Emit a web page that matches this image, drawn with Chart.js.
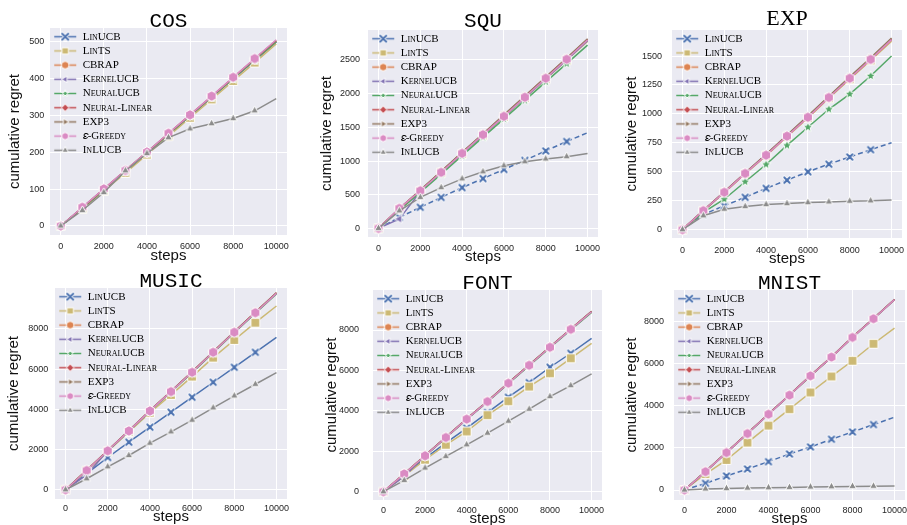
<!DOCTYPE html>
<html>
<head>
<meta charset="utf-8">
<script src="https://cdn.jsdelivr.net/npm/chart.js@4.4.1/dist/chart.umd.min.js"></script>
<style>
  body { margin: 0; background: #fff; width: 907px; height: 525px; overflow: hidden; position: relative; }
  canvas { position: absolute; }
</style>
</head>
<body>
<script>
// x positions shared by every panel
const steps = [0, 1000, 2000, 3000, 4000, 5000, 6000, 7000, 8000, 9000, 10000];
const methods = ["LinUCB", "LinTS", "CBRAP", "KernelUCB", "NeuralUCB", "Neural-Linear", "EXP3", "\u{1D700}-Greedy", "InLUCB"];
const colors = ["#4C72B0", "#CCB974", "#DD8452", "#8172B3", "#55A868", "#C44E52", "#937860", "#DA8BC3", "#8C8C8C"];
const markers = ["x", "s", "o", "<", "*", "D", ">", "h", "^"];

const xTicks = [0, 2000, 4000, 6000, 8000, 10000];
const cosTicks = [0, 100, 200, 300, 400, 500];
const squTicks = [0, 500, 1000, 1500, 2000, 2500];
const expTicks = [0, 250, 500, 750, 1000, 1250, 1500];
const bigTicks = [0, 2000, 4000, 6000, 8000];

// cumulative regret, one row per method (same order as methods)
const cosRegret = [
  [0, 48, 98, 148, 198, 249, 299, 350, 400, 450, 500],
  [0, 46, 95, 144, 194, 244, 294, 344, 394, 444, 495],
  [0, 49, 99, 149, 199, 250, 301, 351, 402, 452, 502],
  [0, 49, 99, 149, 199, 250, 300, 350, 401, 451, 501],
  [0, 48, 98, 148, 199, 249, 300, 350, 400, 451, 500],
  [0, 50, 100, 151, 201, 251, 302, 352, 403, 454, 504],
  [0, 50, 100, 150, 200, 251, 301, 352, 402, 453, 503],
  [0, 51, 101, 151, 201, 252, 302, 353, 404, 455, 506],
  [0, 42, 91, 150, 197, 240, 264, 278, 292, 313, 346],
];
const squRegret = [
  [0, 164, 313, 460, 605, 740, 875, 1010, 1150, 1290, 1420],
  [0, 285, 555, 828, 1105, 1382, 1655, 1935, 2215, 2495, 2775],
  [0, 292, 562, 838, 1118, 1395, 1672, 1952, 2235, 2515, 2795],
  [0, 140, 545, 828, 1108, 1386, 1660, 1940, 2222, 2502, 2785],
  [0, 270, 535, 805, 1080, 1355, 1625, 1900, 2175, 2445, 2720],
  [0, 294, 566, 845, 1124, 1400, 1680, 1960, 2243, 2524, 2808],
  [0, 296, 568, 848, 1128, 1405, 1685, 1966, 2248, 2530, 2815],
  [0, 297, 559, 832, 1114, 1391, 1663, 1946, 2228, 2510, 2797],
  [0, 260, 460, 605, 735, 840, 930, 990, 1030, 1065, 1110],
];
const expRegret = [
  [0, 132, 206, 280, 357, 428, 500, 566, 628, 691, 751],
  [0, 162, 320, 482, 640, 803, 966, 1136, 1300, 1463, 1628],
  [0, 164, 322, 485, 642, 807, 970, 1140, 1306, 1469, 1638],
  [0, 164, 324, 488, 646, 811, 975, 1145, 1311, 1475, 1645],
  [0, 150, 263, 414, 563, 728, 885, 1040, 1171, 1328, 1500],
  [0, 166, 326, 490, 648, 814, 978, 1148, 1315, 1478, 1648],
  [0, 167, 328, 492, 652, 818, 983, 1152, 1320, 1484, 1655],
  [0, 165, 323, 486, 643, 808, 971, 1142, 1308, 1471, 1642],
  [0, 120, 177, 200, 217, 225, 234, 240, 246, 249, 257],
];
const musicRegret = [
  [0, 800, 1606, 2370, 3114, 3860, 4605, 5350, 6095, 6840, 7585],
  [0, 950, 1910, 2880, 3830, 4720, 5630, 6575, 7453, 8313, 9143],
  [0, 965, 1945, 2935, 3930, 4895, 5860, 6855, 7850, 8825, 9790],
  [0, 740, 1935, 2925, 3920, 4885, 5850, 6845, 7840, 8815, 9780],
  [0, 955, 1930, 2915, 3905, 4870, 5830, 6820, 7810, 8780, 9740],
  [0, 968, 1950, 2940, 3935, 4900, 5865, 6860, 7855, 8830, 9795],
  [0, 970, 1952, 2945, 3940, 4905, 5870, 6865, 7860, 8835, 9800],
  [0, 960, 1940, 2930, 3925, 4885, 5847, 6840, 7835, 8810, 9772],
  [0, 547, 1143, 1706, 2318, 2882, 3462, 4075, 4670, 5250, 5830],
];
const fontRegret = [
  [0, 820, 1650, 2420, 3146, 3916, 4676, 5398, 6158, 6850, 7590],
  [0, 780, 1580, 2321, 2979, 3786, 4478, 5200, 5860, 6600, 7343],
  [0, 885, 1785, 2690, 3598, 4470, 5378, 6265, 7155, 8043, 8915],
  [0, 755, 1775, 2680, 3588, 4460, 5368, 6255, 7145, 8033, 8905],
  [0, 875, 1770, 2670, 3575, 4445, 5350, 6235, 7120, 8005, 8870],
  [0, 888, 1788, 2695, 3603, 4475, 5383, 6270, 7160, 8050, 8925],
  [0, 890, 1790, 2698, 3605, 4478, 5386, 6273, 7163, 8053, 8930],
  [0, 880, 1778, 2683, 3590, 4460, 5368, 6255, 7145, 8033, 8905],
  [0, 560, 1170, 1745, 2321, 2897, 3490, 4083, 4708, 5250, 5827],
];
const mnistRegret = [
  [0, 317, 667, 1000, 1349, 1714, 2048, 2413, 2762, 3111, 3460],
  [0, 760, 1428, 2254, 3063, 3841, 4635, 5397, 6143, 6952, 7698],
  [0, 880, 1785, 2692, 3610, 4515, 5435, 6325, 7262, 8150, 9055],
  [0, 875, 1780, 2688, 3606, 4512, 5432, 6321, 7258, 8147, 9052],
  [0, 872, 1776, 2682, 3600, 4505, 5425, 6315, 7250, 8140, 9045],
  [0, 882, 1788, 2695, 3612, 4518, 5438, 6328, 7265, 8153, 9058],
  [0, 884, 1790, 2697, 3614, 4520, 5440, 6330, 7267, 8155, 9060],
  [0, 871, 1777, 2683, 3603, 4508, 5428, 6317, 7254, 8143, 9048],
  [0, 50, 70, 90, 110, 125, 140, 155, 170, 180, 195],
];

const sans = "'Liberation Sans', Arial, sans-serif";
const mono = "'Liberation Mono', 'DejaVu Sans Mono', monospace";
const serif = "'Liberation Serif', 'DejaVu Serif', serif";
const markerR = [3.4, 5.2, 4.5, 4.8, 5.5, 4.2, 4.8, 5.3, 4.6];

// L/R/T/B = plot area in page pixels, titleY / yTitleX / stepsY = text centres
const panels = [
  { title: "COS", font: mono, data: cosRegret, yMin: -24.5, yMax: 538, yTicks: cosTicks,
    L: 50, R: 287, T: 28, B: 235, titleY: 20, yTitleX: 15.3, stepsY: 255.8, padX: 6.6, padY: 5.7, dash: [] },
  { title: "SQU", font: mono, data: squRegret, yMin: -128, yMax: 2945, yTicks: squTicks,
    L: 368, R: 598, T: 30, B: 237, titleY: 20.3, yTitleX: 326.9, stepsY: 257.4, padX: 6.3, padY: 8, dash: [5, 3] },
  { title: "EXP", font: serif, data: expRegret, yMin: -72, yMax: 1725, yTicks: expTicks,
    L: 672, R: 902, T: 30, B: 238, titleY: 19.5, yTitleX: 631.9, stepsY: 259, padX: 7, padY: 10, dash: [5, 3] },
  { title: "MUSIC", font: mono, data: musicRegret, yMin: -460, yMax: 10040, yTicks: bigTicks,
    L: 55, R: 287, T: 288, B: 499, titleY: 280, yTitleX: 13.6, stepsY: 517.4, padX: 4, padY: 6.7, dash: [] },
  { title: "FONT", font: mono, data: fontRegret, yMin: -411, yMax: 9980, yTicks: bigTicks,
    L: 373, R: 602, T: 290, B: 500, titleY: 281.7, yTitleX: 331.9, stepsY: 519, padX: 5, padY: 14, dash: [] },
  { title: "MNIST", font: mono, data: mnistRegret, yMin: -475, yMax: 9507, yTicks: bigTicks,
    L: 674, R: 905, T: 290, B: 500, titleY: 281.7, yTitleX: 631.9, stepsY: 519, padX: 5, padY: 10, dash: [5, 3] },
];

function drawMarker(ctx, kind, color, r) {
  if (kind === "x") {
    const d = r * 0.8;
    ctx.lineCap = "round";
    ctx.beginPath();
    ctx.moveTo(-d, -d); ctx.lineTo(d, d);
    ctx.moveTo(d, -d); ctx.lineTo(-d, d);
    ctx.strokeStyle = "#fff"; ctx.lineWidth = 3.6; ctx.stroke();
    ctx.strokeStyle = color; ctx.lineWidth = 2; ctx.stroke();
    return;
  }
  ctx.beginPath();
  if (kind === "o") {
    ctx.arc(0, 0, r, 0, Math.PI * 2);
  } else if (kind === "s") {
    ctx.rect(-r * 0.85, -r * 0.85, r * 1.7, r * 1.7);
  } else {
    // polygons: [vertices, start angle]
    const poly = { "^": [3, -90], "<": [3, 180], ">": [3, 0], "D": [4, -90], "h": [6, -90], "*": [10, -90] }[kind];
    for (let k = 0; k < poly[0]; k++) {
      const ang = (poly[1] + k * 360 / poly[0]) * Math.PI / 180;
      const rr = kind === "*" && k % 2 ? r * 0.42 : r;
      const px = Math.cos(ang) * rr, py = Math.sin(ang) * rr;
      if (k === 0) ctx.moveTo(px, py); else ctx.lineTo(px, py);
    }
    ctx.closePath();
  }
  ctx.fillStyle = color;
  ctx.fill();
  ctx.strokeStyle = "#fff";
  ctx.lineWidth = 1;
  ctx.stroke();
}

function markerImage(kind, color, r) {
  const c = document.createElement("canvas");
  const s = Math.ceil(2 * r + 5);
  c.width = s; c.height = s;
  const ctx = c.getContext("2d");
  ctx.translate(s / 2, s / 2);
  drawMarker(ctx, kind, color, r);
  return c;
}

function legendIcon(kind, color) {
  const c = document.createElement("canvas");
  c.width = 24; c.height = 11;
  const ctx = c.getContext("2d");
  ctx.strokeStyle = color;
  ctx.lineWidth = 1.5;
  ctx.beginPath(); ctx.moveTo(1, 5.5); ctx.lineTo(23, 5.5); ctx.stroke();
  ctx.translate(12, 5.5);
  drawMarker(ctx, kind, color, 3.8);
  return c;
}

const markerImgs = methods.map((m, i) => markerImage(markers[i], colors[i], markerR[i]));
const legendImgs = methods.map((m, i) => legendIcon(markers[i], colors[i]));

// grey seaborn background behind the plot area
const plotBg = {
  id: "plotBg",
  beforeDraw(chart) {
    const a = chart.chartArea;
    const ctx = chart.ctx;
    ctx.save();
    ctx.fillStyle = "#EAEAF2";
    ctx.fillRect(a.left, a.top, a.right - a.left, a.bottom - a.top);
    ctx.restore();
  },
};

// keep the legend box inside the plot area (upper left)
const legendInside = {
  id: "legendInside",
  afterLayout(chart) {
    const lg = chart.legend;
    const a = chart.chartArea;
    if (!lg) return;
    lg.left = a.left;
    lg.top = a.top;
    lg.right = a.right;
    lg.bottom = a.bottom;
  },
};

const TITLE_BOX = 28;
const TITLE_LH = 0.6;

for (const p of panels) {
  const canvasLeft = p.yTitleX - 9 - 2;
  const canvasTop = p.T - TITLE_BOX;
  const canvasBottom = p.stepsY + 9;
  const width = Math.round(p.R + 22 - canvasLeft);
  const height = Math.round(canvasBottom - canvasTop);
  const left = Math.round(canvasLeft);
  const top = Math.round(canvasTop);

  const canvas = document.createElement("canvas");
  canvas.width = width;
  canvas.height = height;
  canvas.style.left = left + "px";
  canvas.style.top = top + "px";
  document.body.appendChild(canvas);

  const yw = p.L - left;
  const xh = top + height - p.B;
  const titleSize = p.font === serif ? 22 : 21;
  const titleLine = titleSize * TITLE_LH;
  const capShift = p.font === serif ? 0.2 : 1.3;
  const padBottom = Math.max(0, p.T - titleLine / 2 - (p.titleY + capShift));
  const padTop = TITLE_BOX - titleLine - padBottom;

  const datasets = methods.map((m, i) => ({
    label: m,
    data: steps.map((s, k) => ({ x: s, y: p.data[i][k] })),
    borderColor: colors[i],
    backgroundColor: colors[i],
    borderWidth: 1.5,
    borderDash: i === 0 ? p.dash : [],
    pointStyle: markerImgs[i],
    pointRadius: steps.map((s, k) => (k === steps.length - 1 ? 0 : 4)),
    tension: 0,
    order: methods.length - i,
  }));

  new Chart(canvas, {
    type: "line",
    data: { datasets: datasets },
    options: {
      responsive: false,
      animation: false,
      devicePixelRatio: 1,
      events: [],
      layout: { padding: { left: 0, right: 22, top: 0, bottom: 0 } },
      scales: {
        x: {
          type: "linear",
          min: -500,
          max: 10500,
          afterBuildTicks: (s) => { s.ticks = xTicks.map((v) => ({ value: v })); },
          afterFit: (s) => { s.height = xh; },
          grid: { color: "#ffffff", lineWidth: 1, drawTicks: false },
          border: { display: false },
          ticks: { color: "#262626", padding: p.padX, maxRotation: 0, font: { family: sans, size: 9 },
                   callback: (v) => String(v) },
          title: { display: true, text: "steps", color: "#111", padding: 0,
                   font: { family: sans, size: 15, lineHeight: 1.2 } },
        },
        y: {
          type: "linear",
          min: p.yMin,
          max: p.yMax,
          afterBuildTicks: (s) => { s.ticks = p.yTicks.map((v) => ({ value: v })); },
          afterFit: (s) => { s.width = yw; },
          grid: { color: "#ffffff", lineWidth: 1, drawTicks: false },
          border: { display: false },
          ticks: { color: "#262626", padding: p.padY, font: { family: sans, size: 9 },
                   callback: (v) => String(v) },
          title: { display: true, text: "cumulative regret", color: "#111", padding: 2,
                   font: { family: sans, size: 15, lineHeight: 1.2 } },
        },
      },
      plugins: {
        title: {
          display: true,
          text: p.title,
          fullSize: false,
          color: "#000",
          font: { family: p.font, size: titleSize, lineHeight: TITLE_LH, weight: "normal" },
          padding: { top: padTop, bottom: padBottom },
        },
        legend: {
          position: "chartArea",
          align: "start",
          labels: {
            usePointStyle: true,
            pointStyleWidth: 24,
            boxHeight: 11,
            padding: 3.2,
            color: "#222",
            font: { family: serif, size: 11, weight: "small-caps" },
            generateLabels: (chart) =>
              chart.data.datasets.map((ds, i) => ({
                text: ds.label,
                pointStyle: legendImgs[i],
                fillStyle: ds.borderColor,
                strokeStyle: ds.borderColor,
                lineWidth: 0,
                hidden: false,
                datasetIndex: i,
              })),
          },
        },
        tooltip: { enabled: false },
      },
    },
    plugins: [plotBg, legendInside],
  });
}
</script>
</body>
</html>
